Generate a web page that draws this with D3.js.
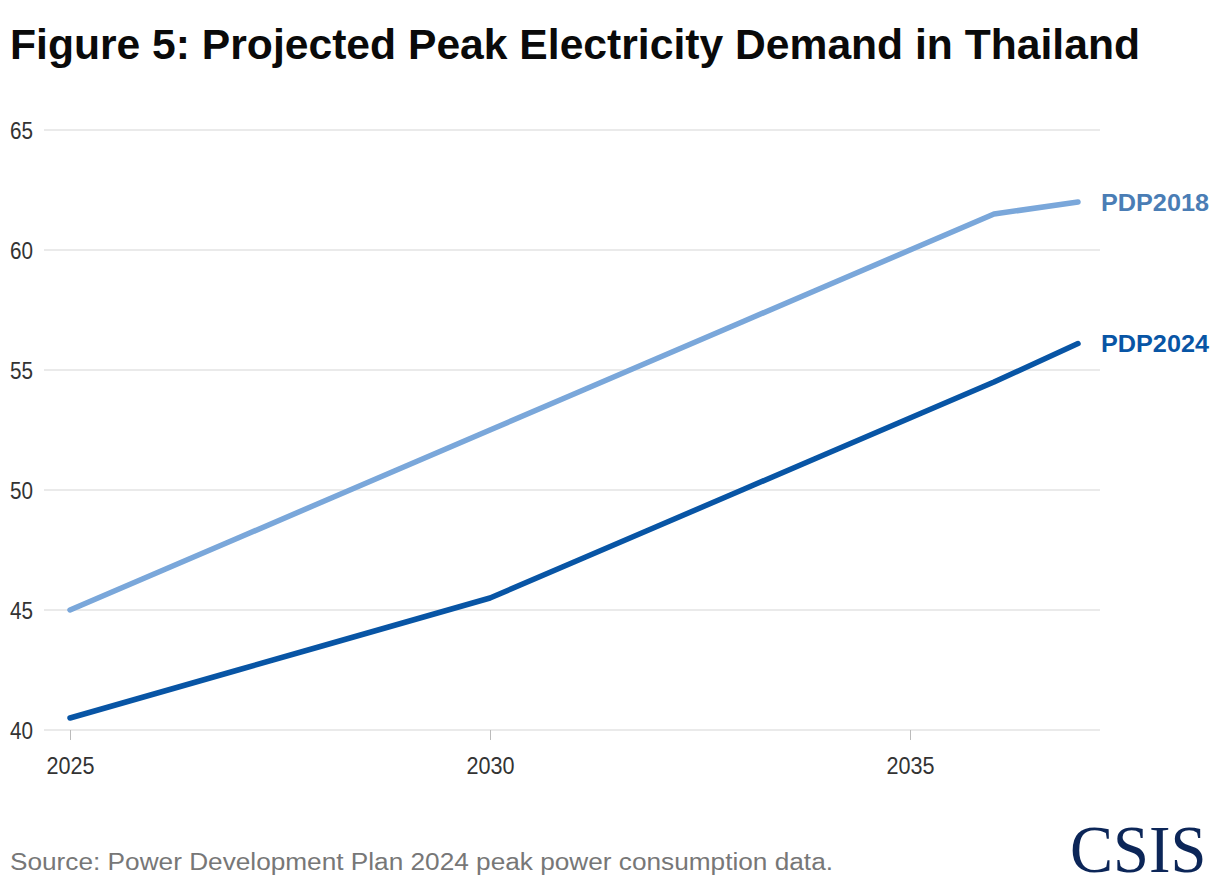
<!DOCTYPE html>
<html>
<head>
<meta charset="utf-8">
<script src="https://cdn.jsdelivr.net/npm/d3@7"></script>
<style>
  body { margin: 0; background: #fff; }
  svg { display: block; }
</style>
</head>
<body>
<svg id="chart" width="1220" height="888"></svg>
<script>
// data (GW)
var years = [2025, 2026, 2027, 2028, 2029, 2030, 2031, 2032, 2033, 2034, 2035, 2036, 2037];
var pdp2018 = [45, 46.5, 48, 49.5, 51, 52.5, 54, 55.5, 57, 58.5, 60, 61.5, 62];
var pdp2024 = [40.5, 41.5, 42.5, 43.5, 44.5, 45.5, 47, 48.5, 50, 51.5, 53, 54.5, 56.1];
var yTicks = [40, 45, 50, 55, 60, 65];
var xTicks = [2025, 2030, 2035];
var seriesNames = ["PDP2018", "PDP2024"];
var lineColors = ["#7aa7da", "#0855a5"];
var labelColors = ["#4a7db5", "#0855a5"];

var font = "Liberation Sans, Arial, sans-serif";
var svg = d3.select("#chart");

var x = d3.scaleLinear().domain([2025, 2035]).range([70, 910]);
var y = d3.scaleLinear().domain([40, 65]).range([730, 130]);

// title
svg.append("text")
  .attr("x", 10)
  .attr("y", 59)
  .attr("font-family", font)
  .attr("font-weight", "bold")
  .attr("font-size", 43)
  .attr("textLength", 1130)
  .attr("lengthAdjust", "spacingAndGlyphs")
  .attr("fill", "#0a0a0a")
  .text("Figure 5: Projected Peak Electricity Demand in Thailand");

// gridlines
svg.append("g")
  .selectAll("line")
  .data(yTicks)
  .join("line")
  .attr("x1", 44)
  .attr("x2", 1100)
  .attr("y1", d => y(d))
  .attr("y2", d => y(d))
  .attr("stroke", "#e3e3e3")
  .attr("stroke-width", 1.5);

// y labels
svg.append("g")
  .selectAll("text")
  .data(yTicks)
  .join("text")
  .attr("x", 10)
  .attr("y", d => y(d))
  .attr("dy", "0.36em")
  .attr("font-family", font)
  .attr("font-size", 24)
  .attr("textLength", 23)
  .attr("lengthAdjust", "spacingAndGlyphs")
  .attr("fill", "#333")
  .text(d => d);

// x axis
var xAxis = d3.axisBottom(x)
  .tickValues(xTicks)
  .tickFormat(d3.format("d"))
  .tickSize(10)
  .tickPadding(17);

var gx = svg.append("g")
  .attr("transform", "translate(0," + y(40) + ")")
  .call(xAxis);
gx.select(".domain").remove();
gx.selectAll(".tick line").attr("stroke", "#bbb");
gx.selectAll(".tick text")
  .attr("font-family", font)
  .attr("font-size", 24)
  .attr("textLength", 48)
  .attr("lengthAdjust", "spacingAndGlyphs")
  .attr("fill", "#333");

// lines
var line = d3.line()
  .x((d, i) => x(years[i]))
  .y(d => y(d));

var all = [pdp2018, pdp2024];

svg.append("g")
  .selectAll("path")
  .data(all)
  .join("path")
  .attr("d", d => line(d))
  .attr("fill", "none")
  .attr("stroke", (d, i) => lineColors[i])
  .attr("stroke-width", 5.5)
  .attr("stroke-linecap", "round")
  .attr("stroke-linejoin", "round");

// end labels
svg.append("g")
  .selectAll("text")
  .data(all)
  .join("text")
  .attr("x", 1101)
  .attr("y", d => y(d[d.length - 1]))
  .attr("dy", "0.36em")
  .attr("font-family", font)
  .attr("font-weight", "bold")
  .attr("font-size", 24)
  .attr("textLength", 108)
  .attr("lengthAdjust", "spacingAndGlyphs")
  .attr("fill", (d, i) => labelColors[i])
  .text((d, i) => seriesNames[i]);

// source
svg.append("text")
  .attr("x", 10)
  .attr("y", 870)
  .attr("font-family", font)
  .attr("font-size", 23)
  .attr("textLength", 823)
  .attr("lengthAdjust", "spacingAndGlyphs")
  .attr("fill", "#777")
  .text("Source: Power Development Plan 2024 peak power consumption data.");

// logo
svg.append("text")
  .attr("transform", "translate(1070,872) scale(0.95,1)")
  .attr("font-family", "Liberation Serif, Times New Roman, serif")
  .attr("font-size", 68)
  .attr("fill", "#0c2658")
  .text("CSIS");
</script>
</body>
</html>
